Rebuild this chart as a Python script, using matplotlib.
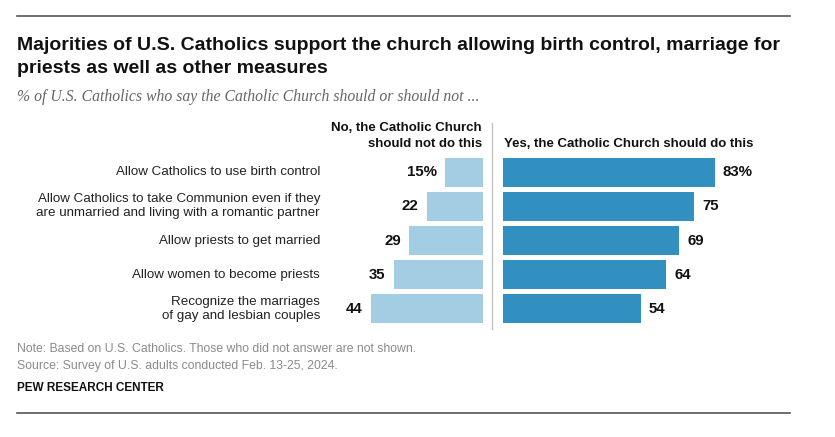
import matplotlib
matplotlib.use("Agg")
import matplotlib.pyplot as plt
from matplotlib.lines import Line2D
from matplotlib.transforms import blended_transform_factory

categories = [
    "Allow Catholics to use birth control",
    "Allow Catholics to take Communion even if they\nare unmarried and living with a romantic partner",
    "Allow priests to get married",
    "Allow women to become priests",
    "Recognize the marriages\nof gay and lesbian couples",
]
no_vals = [15, 22, 29, 35, 44]
yes_vals = [83, 75, 69, 64, 54]

title = ("Majorities of U.S. Catholics support the church allowing birth control, marriage for\n"
         "priests as well as other measures")
subtitle = "% of U.S. Catholics who say the Catholic Church should or should not ..."
no_header = "No, the Catholic Church\nshould not do this"
yes_header = "Yes, the Catholic Church should do this"
note = "Note: Based on U.S. Catholics. Those who did not answer are not shown."
source = "Source: Survey of U.S. adults conducted Feb. 13-25, 2024."
credit = "PEW RESEARCH CENTER"

W, H = 835, 437
light = "#A3CDE3"
dark = "#3190C0"
sans = ["Liberation Sans", "DejaVu Sans"]

fig = plt.figure(figsize=(W / 100, H / 100), dpi=100)
fig.patch.set_facecolor("white")


def fx(px):
    return px / W


def fy(py):
    return 1 - py / H


scale = 2.55  # px per percentage point
top, bottom = 155, 326

# left axes (No), right edge at px 483
left_w = 483 - 330
axl = fig.add_axes([fx(330), fy(bottom), fx(left_w), (bottom - top) / H])
axl.barh(range(len(no_vals)), no_vals, height=0.85, color=light)
axl.set_xlim(left_w / scale, 0)
axl.set_ylim(len(no_vals) - 0.5, -0.5)
axl.axis("off")
for i, v in enumerate(no_vals):
    lab = f"{v}%" if i == 0 else str(v)
    axl.text(v + 3.2, i, lab, ha="right", va="center", fontsize=10.8,
             fontweight="bold", family=sans, color="#111111")

# right axes (Yes), left edge at px 503
right_w = 790 - 503
axr = fig.add_axes([fx(503), fy(bottom), fx(right_w), (bottom - top) / H])
axr.barh(range(len(yes_vals)), yes_vals, height=0.85, color=dark)
axr.set_xlim(0, right_w / scale)
axr.set_ylim(len(yes_vals) - 0.5, -0.5)
axr.axis("off")
for i, v in enumerate(yes_vals):
    lab = f"{v}%" if i == 0 else str(v)
    axr.text(v + 3.2, i, lab, ha="left", va="center", fontsize=10.8,
             fontweight="bold", family=sans, color="#111111")

# category labels: x in figure coords, y in data coords
tr = blended_transform_factory(fig.transFigure, axl.transData)
for i, c in enumerate(categories):
    axl.text(fx(320), i, c, transform=tr, ha="right", va="center", fontsize=9.6,
             family=sans, color="#222222", linespacing=1.25, clip_on=False)

# headers
fig.text(fx(482), fy(136), no_header, ha="right", va="center", fontsize=9.5,
         fontweight="bold", family=sans, color="#111111", linespacing=1.35)
fig.text(fx(504), fy(144), yes_header, ha="left", va="center", fontsize=9.5,
         fontweight="bold", family=sans, color="#111111")

# divider
fig.add_artist(Line2D([fx(492), fx(492)], [fy(123), fy(329)], color="#c4c4c4", lw=1.0))

# rules
fig.add_artist(Line2D([fx(17), fx(790)], [fy(16), fy(16)], color="#555555", lw=1.2))
fig.add_artist(Line2D([fx(17), fx(790)], [fy(413), fy(413)], color="#555555", lw=1.2))

# title and subtitle
fig.text(fx(17), fy(57), title, ha="left", va="center", fontsize=14,
         fontweight="bold", family=sans, color="#111111", linespacing=1.4)
fig.text(fx(17), fy(97), subtitle, ha="left", va="center", fontsize=11.3,
         style="italic", family=["Liberation Serif", "DejaVu Serif"], color="#666666")

# footer
fig.text(fx(17), fy(349), note, ha="left", va="center", fontsize=8.8,
         family=sans, color="#8a8a8a")
fig.text(fx(17), fy(366), source, ha="left", va="center", fontsize=8.8,
         family=sans, color="#8a8a8a")
fig.text(fx(17), fy(388), credit, ha="left", va="center", fontsize=8.5,
         fontweight="bold", family=sans, color="#111111")

fig.savefig("out.png", dpi=100, facecolor="white")
